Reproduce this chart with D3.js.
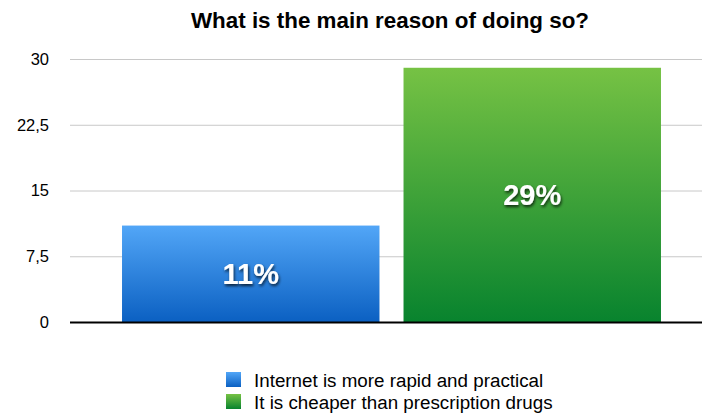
<!DOCTYPE html>
<html>
<head>
<meta charset="utf-8">
<script src="https://cdn.jsdelivr.net/npm/d3@7"></script>
<style>
  body { margin: 0; background: #fff; }
  svg { font-family: "Liberation Sans", Arial, Helvetica, sans-serif; }
</style>
</head>
<body>
<svg id="chart" width="702" height="416"></svg>
<script>
// data
const categories = ["Internet is more rapid and practical", "It is cheaper than prescription drugs"];
const values = [11, 29];
const valueLabels = ["11%", "29%"];
const tickValues = [0, 7.5, 15, 22.5, 30];
const barColors = [["#52a6f7", "#0b60c2"], ["#76c244", "#08832e"]];

const svg = d3.select("#chart");

// scales
const y = d3.scaleLinear().domain([0, 30]).range([322, 59]);
const x = d3.scaleBand()
  .domain(categories)
  .range([110, 673])
  .paddingInner(24 / 281)
  .paddingOuter(12 / 281);

// gradients for the bars
const defs = svg.append("defs");
barColors.forEach((c, i) => {
  const g = defs.append("linearGradient")
    .attr("id", "grad" + i)
    .attr("x1", 0).attr("y1", 0).attr("x2", 0).attr("y2", 1);
  g.append("stop").attr("offset", "0%").attr("stop-color", c[0]);
  g.append("stop").attr("offset", "100%").attr("stop-color", c[1]);
});
const shadow = defs.append("filter").attr("id", "shadow")
  .attr("x", "-20%").attr("y", "-20%").attr("width", "140%").attr("height", "150%");
shadow.append("feDropShadow")
  .attr("dx", 1).attr("dy", 2).attr("stdDeviation", 1.5)
  .attr("flood-color", "#000").attr("flood-opacity", 0.75);

// title
svg.append("text")
  .attr("x", 390)
  .attr("y", 28)
  .attr("text-anchor", "middle")
  .style("font-size", "22.4px")
  .style("font-weight", "bold")
  .text("What is the main reason of doing so?");

// y axis with gridlines
const yAxis = svg.append("g")
  .attr("class", "y-axis")
  .attr("transform", "translate(70, 0)")
  .call(d3.axisLeft(y)
    .tickValues(tickValues)
    .tickSize(-632)
    .tickPadding(21)
    .tickFormat(d => String(d).replace(".", ",")));
yAxis.select(".domain").remove();
yAxis.selectAll(".tick line").attr("stroke", "#c8c8c8").attr("stroke-width", 1);
yAxis.selectAll(".tick text")
  .style("font-size", "16.5px")
  .style("fill", "#000")
  .attr("font-family", "Liberation Sans, Arial, sans-serif");

// bars
svg.selectAll(".bar")
  .data(categories)
  .enter()
  .append("rect")
  .attr("class", "bar")
  .attr("x", d => x(d))
  .attr("width", x.bandwidth())
  .attr("y", (d, i) => y(values[i]))
  .attr("height", (d, i) => y(0) - y(values[i]))
  .attr("fill", (d, i) => `url(#grad${i})`);

// baseline
svg.append("line")
  .attr("x1", 70).attr("x2", 702)
  .attr("y1", y(0) + 0.5).attr("y2", y(0) + 0.5)
  .attr("stroke", "#000")
  .attr("stroke-width", 2);

// value labels inside the bars
svg.selectAll(".value-label")
  .data(categories)
  .enter()
  .append("text")
  .attr("class", "value-label")
  .attr("x", d => x(d) + x.bandwidth() / 2)
  .attr("y", (d, i) => (y(values[i]) + y(0)) / 2)
  .attr("dy", "0.36em")
  .attr("text-anchor", "middle")
  .attr("filter", "url(#shadow)")
  .style("font-size", "29px")
  .style("font-weight", "bold")
  .style("fill", "#fff")
  .text((d, i) => valueLabels[i]);

// legend
const legend = svg.selectAll(".legend")
  .data(categories)
  .enter()
  .append("g")
  .attr("class", "legend")
  .attr("transform", (d, i) => `translate(226, ${372 + i * 22})`);

legend.append("rect")
  .attr("width", 15)
  .attr("height", 15)
  .attr("fill", (d, i) => `url(#grad${i})`);

legend.append("text")
  .attr("x", 28)
  .attr("y", 14.5)
  .style("font-size", "18.8px")
  .text(d => d);
</script>
</body>
</html>
